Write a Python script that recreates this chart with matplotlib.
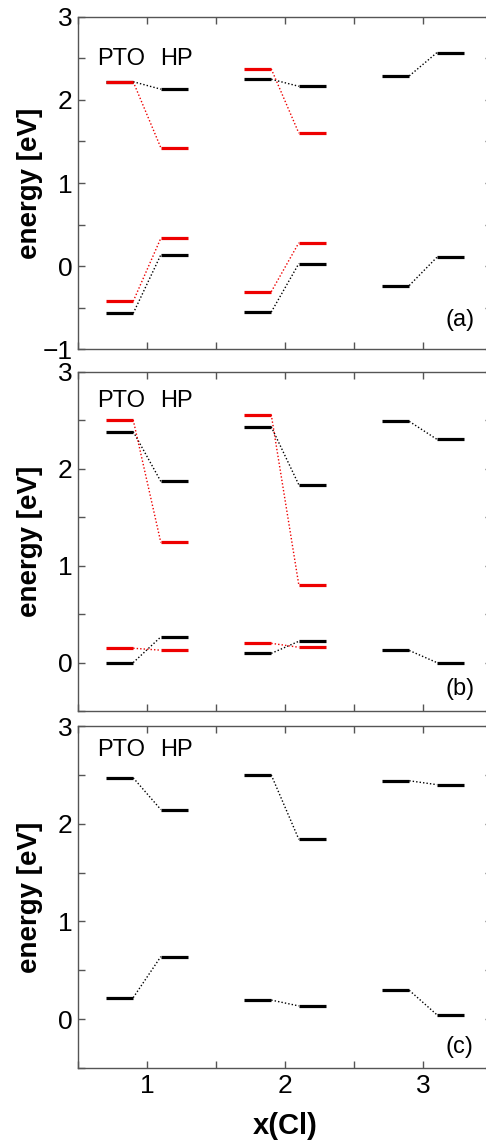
import matplotlib.pyplot as plt
import numpy as np

plt.rcParams["font.family"] = ["Liberation Sans", "DejaVu Sans"]

x_cl = [1, 2, 3]

# band edges, one entry per x(Cl) group (nan = not shown)
# panel (a)
a_black_pto_top = [2.22, 2.25, 2.29]
a_black_hp_top = [2.13, 2.165, 2.57]
a_black_pto_bot = [-0.57, -0.555, -0.235]
a_black_hp_bot = [0.135, 0.03, 0.105]
a_red_pto_top = [2.22, 2.375, np.nan]
a_red_hp_top = [1.425, 1.60, np.nan]
a_red_pto_bot = [-0.425, -0.31, np.nan]
a_red_hp_bot = [0.335, 0.28, np.nan]

# panel (b)
b_black_pto_top = [2.385, 2.435, 2.49]
b_black_hp_top = [1.87, 1.835, 2.305]
b_black_pto_bot = [0.0, 0.095, 0.125]
b_black_hp_bot = [0.265, 0.22, 0.0]
b_red_pto_top = [2.505, 2.56, np.nan]
b_red_hp_top = [1.24, 0.80, np.nan]
b_red_pto_bot = [0.148, 0.199, np.nan]
b_red_hp_bot = [0.128, 0.158, np.nan]

# panel (c)
c_black_pto_top = [2.47, 2.50, 2.44]
c_black_hp_top = [2.145, 1.84, 2.40]
c_black_pto_bot = [0.22, 0.195, 0.295]
c_black_hp_bot = [0.64, 0.135, 0.045]

panels = [
    dict(label="(a)", ylim=(-1, 3),
         black=[(a_black_pto_top, a_black_hp_top), (a_black_pto_bot, a_black_hp_bot)],
         red=[(a_red_pto_top, a_red_hp_top), (a_red_pto_bot, a_red_hp_bot)],
         pto_y=2.49, lab_y=-0.65),
    dict(label="(b)", ylim=(-0.5, 3),
         black=[(b_black_pto_top, b_black_hp_top), (b_black_pto_bot, b_black_hp_bot)],
         red=[(b_red_pto_top, b_red_hp_top), (b_red_pto_bot, b_red_hp_bot)],
         pto_y=2.70, lab_y=-0.27),
    dict(label="(c)", ylim=(-0.5, 3),
         black=[(c_black_pto_top, c_black_hp_top), (c_black_pto_bot, c_black_hp_bot)],
         red=[],
         pto_y=2.75, lab_y=-0.29),
]

# axes boxes in figure fractions [left, bottom, width, height]
boxes = [
    [0.1605, 0.6957, 0.852, 0.2895],
    [0.1605, 0.3801, 0.852, 0.2956],
    [0.1605, 0.0689, 0.852, 0.2981],
]

spine_col = "#555555"


def draw_levels(ax, pto, hp, color):
    for x, y0, y1 in zip(x_cl, pto, hp):
        if np.isnan(y0):
            continue
        ax.plot([x - 0.3, x - 0.1], [y0, y0], color=color, lw=2.3,
                solid_capstyle="butt", zorder=3)
        ax.plot([x + 0.1, x + 0.3], [y1, y1], color=color, lw=2.3,
                solid_capstyle="butt", zorder=3)
        ax.plot([x - 0.1, x + 0.1], [y0, y1], color=color, lw=1.0,
                linestyle=(0, (1, 1.5)), zorder=2)


fig = plt.figure(figsize=(4.86, 11.47), dpi=100)
for i, (p, box) in enumerate(zip(panels, boxes)):
    ax = fig.add_axes(box)
    for pto, hp in p["black"]:
        draw_levels(ax, pto, hp, "black")
    for pto, hp in p["red"]:
        draw_levels(ax, pto, hp, "#ee0000")

    ax.set_xlim(0.5, 3.5)
    ax.set_ylim(*p["ylim"])
    xt = np.arange(0.5, 3.51, 0.5)
    ax.set_xticks(xt)
    ax.set_xticklabels(["" if v % 1 else str(int(v)) for v in xt])
    yt = np.arange(p["ylim"][0], 3.01, 0.5)
    ax.set_yticks(yt)
    ax.set_yticklabels(["" if v % 1 else str(int(v)).replace("-", "\u2212") for v in yt])
    ax.tick_params(direction="in", length=5, width=1, color=spine_col,
                   top=True, right=True, labelsize=19, pad=4)
    if i < 2:
        ax.tick_params(labelbottom=False)
    for s in ax.spines.values():
        s.set_color(spine_col)
        s.set_linewidth(1)

    ax.set_ylabel("energy [eV]", fontsize=20, fontweight="bold")
    ax.yaxis.set_label_coords(-0.085, 0.5)
    ax.text(0.64, p["pto_y"], "PTO", fontsize=17, va="center", ha="left")
    ax.text(1.095, p["pto_y"], "HP", fontsize=17, va="center", ha="left")
    ax.text(3.16, p["lab_y"], p["label"], fontsize=17, va="center", ha="left")

ax.set_xlabel("x(Cl)", fontsize=21, fontweight="bold", va="top")
ax.xaxis.set_label_coords(0.5, -0.128)

fig.savefig("out.png", dpi=100)
